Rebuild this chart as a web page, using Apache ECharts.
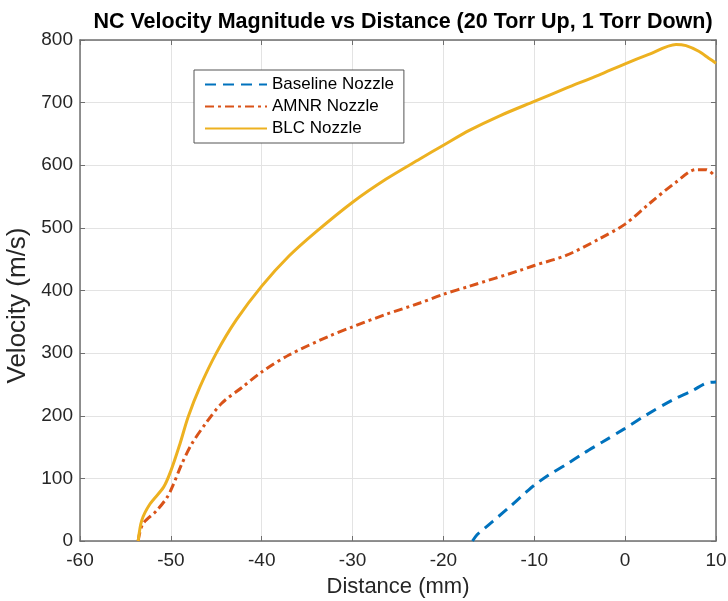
<!DOCTYPE html>
<html>
<head>
<meta charset="utf-8">
<script src="https://cdn.jsdelivr.net/npm/echarts@6/dist/echarts.min.js"></script>
<style>html,body{margin:0;padding:0;background:#fff}#c{width:728px;height:601px}</style>
</head>
<body>
<div id="c"></div>
<script>
const baselineX = [-16.8,-16.3,-15.5,-14.6,-12.9,-10.9,-10,-8.35,-6.5,-4.7,-2.5,-0.1,2.3,5.2,7.4,8.9,10];
const baselineY = [0,10,20,31,52,78,89,106,122,139,158,179,201,225,240,252,254];
const amnrX = [-53.6,-53.1,-51.6,-50.4,-49.7,-48.8,-47.7,-46.2,-44.4,-42.1,-40,-37,-32.6,-30,-26.3,-22.6,-20,-17.1,-11.6,-10,-6.5,-2.9,0,2.6,5.6,7.8,8.9,10];
const amnrY = [0,27,48,70,91,123,155,187,220,246,270,297,327,342,362,380,394,407,432,440,456,482,506,538,573,593,593,581];
const blcX = [-53.6,-53.2,-52.3,-50.8,-50,-49,-48.1,-46.8,-45,-42.8,-40,-37,-34,-30,-26.3,-22.6,-20,-17.1,-13.8,-10,-6.5,-2.9,0,2.6,5.6,6.7,8.1,9.2,10];
const blcY = [0,33,59,86,112,155,198,246,300,353,407,455,494,541,578,610,632,656,679,702,723,744,762,777,793,791,782,771,763];
const xTicks = {min:-60, max:10, interval:10};
const yTicks = {min:0, max:800, interval:100};

const pair = (xs, ys) => xs.map((x,i)=>[x, ys[i]]);
const font = 'Liberation Sans, Arial, Helvetica, sans-serif';
const axisColor = '#6f6f6f';
const chart = echarts.init(document.getElementById('c'));
chart.setOption({
  animation:false,
  backgroundColor:'#fff',
  title:{text:'NC Velocity Magnitude vs Distance (20 Torr Up, 1 Torr Down)', left:398, textAlign:'center', top:6,
    textStyle:{fontFamily:font, fontSize:21.5, fontWeight:'bold', color:'#000'}},
  grid:{left:80, right:12, top:40, bottom:60, show:false, containLabel:false, outerBoundsMode:'none'},
  legend:{orient:'vertical', left:194, top:70, itemWidth:62, itemHeight:14, itemGap:5,
    padding:[6,10,6,10], borderColor:'#555', borderWidth:1, backgroundColor:'#fff',
    itemStyle:{opacity:0},
    textStyle:{fontFamily:font, fontSize:17, color:'#000'},
    data:['Baseline Nozzle','AMNR Nozzle','BLC Nozzle']},
  xAxis:[{type:'value', min:xTicks.min, max:xTicks.max, interval:xTicks.interval,
    name:'Distance (mm)', nameLocation:'middle', nameGap:35,
    nameTextStyle:{fontFamily:font, fontSize:22, color:'#262626'},
    axisLine:{onZero:false, lineStyle:{color:axisColor, width:1.5}},
    axisTick:{inside:true, length:5, lineStyle:{color:axisColor}},
    axisLabel:{fontFamily:font, fontSize:19, color:'#262626', margin:10},
    splitLine:{show:true, lineStyle:{color:'#e3e3e3', width:1}}},
   {type:'value', position:'top', min:xTicks.min, max:xTicks.max, interval:xTicks.interval,
    axisLine:{onZero:false, lineStyle:{color:axisColor, width:1.5}},
    axisTick:{inside:true, length:5, lineStyle:{color:axisColor}},
    axisLabel:{show:false}, splitLine:{show:false}}],
  yAxis:[{type:'value', min:yTicks.min, max:yTicks.max, interval:yTicks.interval,
    name:'Velocity (m/s)', nameLocation:'middle', nameGap:43,
    nameTextStyle:{fontFamily:font, fontSize:26, color:'#262626', padding:[0,30,0,0]},
    axisLine:{show:true, onZero:false, lineStyle:{color:axisColor, width:1.5}},
    axisTick:{show:true, inside:true, length:5, lineStyle:{color:axisColor}},
    axisLabel:{fontFamily:font, fontSize:19, color:'#262626', margin:7},
    splitLine:{show:true, lineStyle:{color:'#e3e3e3', width:1}}},
   {type:'value', position:'right', min:yTicks.min, max:yTicks.max, interval:yTicks.interval,
    axisLine:{show:true, onZero:false, lineStyle:{color:axisColor, width:1.5}},
    axisTick:{show:true, inside:true, length:5, lineStyle:{color:axisColor}},
    axisLabel:{show:false}, splitLine:{show:false}}],
  series:[
    {name:'Baseline Nozzle', type:'line', data:pair(baselineX, baselineY), smooth:0.3, symbol:'none',
      color:'#0072BD', lineStyle:{width:3, type:[11,7], color:'#0072BD'}},
    {name:'AMNR Nozzle', type:'line', data:pair(amnrX, amnrY), smooth:0.3, symbol:'none',
      color:'#D95319', lineStyle:{width:3, type:[9,4,3,4], color:'#D95319'}},
    {name:'BLC Nozzle', type:'line', data:pair(blcX, blcY), smooth:0.3, symbol:'none',
      color:'#EDB120', lineStyle:{width:3, color:'#EDB120'}}
  ]
});
</script>
</body>
</html>
